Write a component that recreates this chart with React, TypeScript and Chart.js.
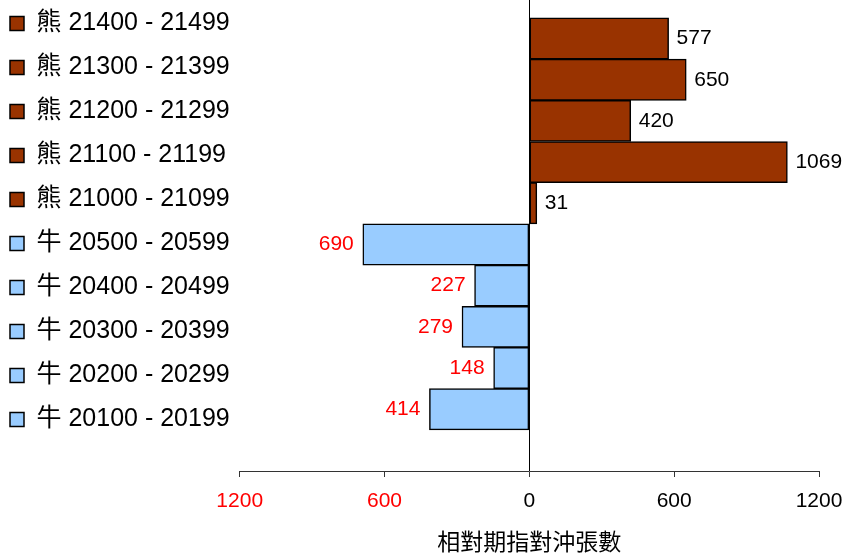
import React, { useEffect, useRef } from "react";
import { Chart, registerables } from "chart.js";

Chart.register(...registerables);

const categories = [
  "熊 21400 - 21499",
  "熊 21300 - 21399",
  "熊 21200 - 21299",
  "熊 21100 - 21199",
  "熊 21000 - 21099",
  "牛 20500 - 20599",
  "牛 20400 - 20499",
  "牛 20300 - 20399",
  "牛 20200 - 20299",
  "牛 20100 - 20199",
];
const values = [577, 650, 420, 1069, 31, -690, -227, -279, -148, -414];
const xTickValues = [-1200, -600, 0, 600, 1200];
const axisTitle = "相對期指對沖張數";

const BEAR = "#993300";
const BULL = "#99CCFF";
const FONT = "'Liberation Sans', Arial, 'Noto Sans CJK TC', sans-serif";

const colorFor = (label: string) => (label.startsWith("熊") ? BEAR : BULL);

export default function App() {
  const ref = useRef<HTMLCanvasElement | null>(null);

  useEffect(() => {
    if (!ref.current) return;
    const colors = categories.map(colorFor);

    const valueLabels = {
      id: "valueLabels",
      afterDatasetsDraw(chart: any) {
        const ctx = chart.ctx;
        const meta = chart.getDatasetMeta(0);
        ctx.save();
        ctx.font = `21px ${FONT}`;
        ctx.textBaseline = "middle";
        meta.data.forEach((bar: any, i: number) => {
          const v = values[i];
          if (v >= 0) {
            ctx.textAlign = "left";
            ctx.fillStyle = "#000000";
            ctx.fillText(String(v), bar.x + 8, bar.y);
          } else {
            ctx.textAlign = "right";
            ctx.fillStyle = "#FF0000";
            ctx.fillText(String(-v), bar.x - 9, bar.y);
          }
        });
        ctx.restore();
      },
    };

    const chart = new Chart(ref.current, {
      type: "bar",
      data: {
        datasets: [
          {
            data: values.map((v, i) => ({ x: v, y: i })),
            backgroundColor: colors,
            borderColor: "#000000",
            borderWidth: 1.5,
            borderSkipped: false,
            barPercentage: 1,
            categoryPercentage: 1,
          },
        ],
      },
      options: {
        indexAxis: "y",
        animation: false,
        responsive: true,
        maintainAspectRatio: false,
        layout: { padding: { right: 26, top: 0, bottom: 0, left: 0 } },
        scales: {
          x: {
            type: "linear",
            min: -1200,
            max: 1200,
            afterBuildTicks: (scale: any) => {
              scale.ticks = xTickValues.map((v) => ({ value: v }));
            },
            ticks: {
              callback: (v: any) => String(Math.abs(Number(v))),
              color: (c: any) => (c.tick && c.tick.value < 0 ? "#FF0000" : "#000000"),
              font: { size: 21, family: FONT, lineHeight: 2.09 },
              padding: 2,
              maxRotation: 0,
            },
            grid: {
              drawOnChartArea: true,
              drawTicks: true,
              tickLength: 6,
              tickColor: "#333333",
              color: (c: any) => (c.tick && c.tick.value === 0 ? "#000000" : "rgba(0,0,0,0)"),
              lineWidth: 1,
            },
            border: { display: true, color: "#333333", width: 1 },
            title: {
              display: true,
              text: axisTitle,
              color: "#000000",
              font: { size: 23, family: FONT, lineHeight: 1 },
              padding: { top: 7.1, bottom: 0 },
            },
          },
          y: {
            type: "linear",
            display: false,
            offset: false,
            reverse: true,
            min: -1.13,
            max: 10.5,
            afterBuildTicks: (scale: any) => {
              scale.ticks = scale.ticks.filter((t: any) => Number.isInteger(t.value));
            },
            ticks: { stepSize: 1 },
            grid: { display: false },
          },
        },
        plugins: {
          legend: {
            position: "left",
            align: "start",
            onClick: () => {},
            labels: {
              boxWidth: 14,
              boxHeight: 14,
              padding: 19,
              color: "#000000",
              font: { size: 25, family: FONT },
              generateLabels: () =>
                categories.map((c, i) => ({
                  text: c,
                  fillStyle: colors[i],
                  strokeStyle: "#000000",
                  lineWidth: 1.5,
                  hidden: false,
                  index: i,
                  datasetIndex: 0,
                })),
            },
          },
          tooltip: { enabled: false },
        },
      },
      plugins: [valueLabels],
    });

    return () => chart.destroy();
  }, []);

  return (
    <div style={{ position: "fixed", left: -9, top: -8, width: 854, height: 563, background: "#ffffff" }}>
      <canvas ref={ref} />
    </div>
  );
}
